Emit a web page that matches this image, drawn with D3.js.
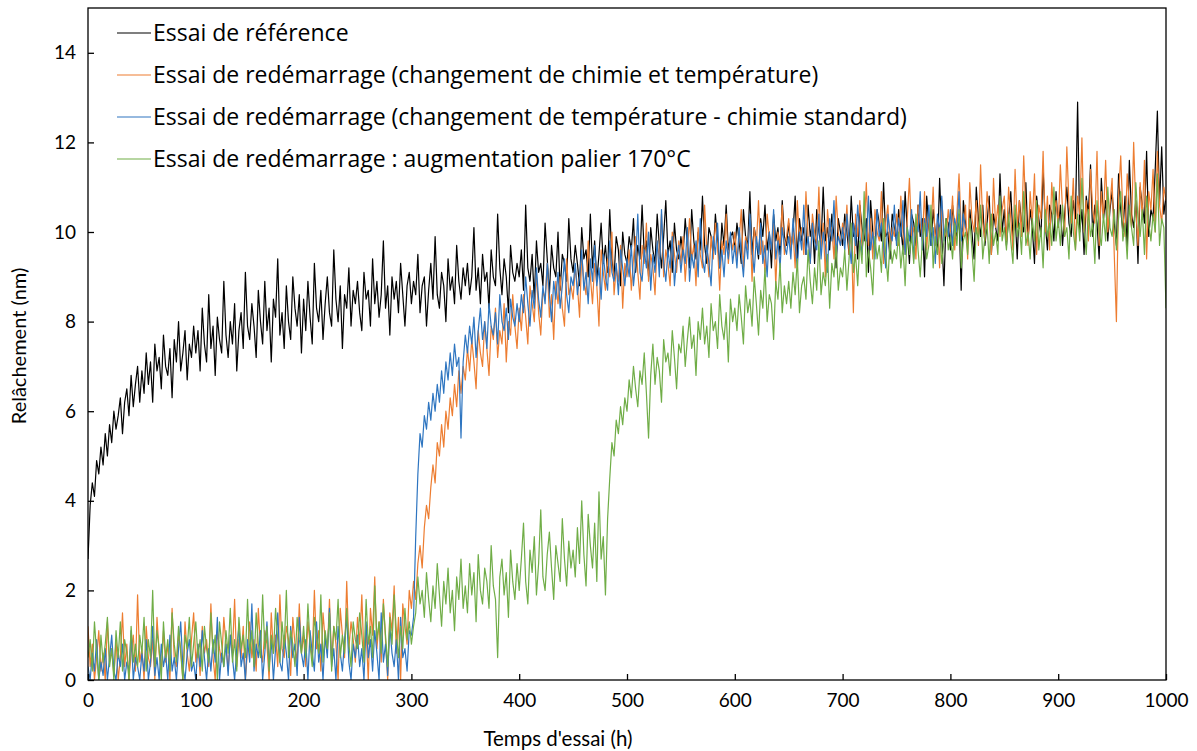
<!DOCTYPE html>
<html>
<head>
<meta charset="utf-8">
<script src="https://cdn.jsdelivr.net/npm/d3@7"></script>
<style>
  html, body { margin: 0; padding: 0; background: #fff; }
  svg { display: block; }
  text { font-family: Lato, "Open Sans", sans-serif; fill: #000; }
  .legend text { font-family: "Open Sans", Lato, sans-serif; }
</style>
</head>
<body>
<svg id="chart" width="1197" height="751"></svg>
<script>
// Sampling interval of the relaxation measurements (hours)
const STEP_H = 2;

const seriesNames = [
  "Essai de référence",
  "Essai de redémarrage (changement de chimie et température)",
  "Essai de redémarrage (changement de température - chimie standard)",
  "Essai de redémarrage : augmentation palier 170°C"
];

const xTicks = [0, 100, 200, 300, 400, 500, 600, 700, 800, 900, 1000];
const yTicks = [0, 2, 4, 6, 8, 10, 12, 14];

// Relâchement (nm), one value every STEP_H hours from t = 0
const refValues = [
  2.7,3.9,4.4,4.1,4.9,4.6,5.2,4.8,5.5,5.0,5.7,5.3,6.0,5.6,5.9,6.3,5.5,6.2,6.5,5.9,6.8,6.1,6.6,7.0,6.2,
  6.9,6.4,7.3,6.6,7.1,6.2,7.5,6.9,7.2,6.5,7.7,7.0,6.8,7.4,6.3,7.6,7.1,8.0,6.9,7.3,7.8,6.7,7.5,7.2,7.9,
  7.3,7.8,6.9,8.3,7.5,7.1,8.6,7.4,7.9,6.8,8.1,7.6,7.3,8.9,7.7,7.2,8.0,7.5,8.4,6.9,7.8,8.2,7.4,9.1,7.9,
  7.6,8.4,7.9,7.2,8.7,8.0,7.5,8.9,7.8,8.3,7.1,8.5,8.1,9.4,7.7,8.2,7.4,8.8,8.0,7.6,9.0,8.3,7.9,8.6,7.3,
  8.5,7.8,8.9,8.1,7.5,9.3,8.3,8.0,8.7,7.6,8.4,9.0,8.2,7.9,9.6,8.5,8.0,8.8,7.4,8.6,8.3,9.2,7.9,8.7,8.4,
  8.9,8.2,7.8,9.1,8.5,8.7,7.9,9.4,8.4,8.9,8.1,8.6,9.8,8.3,8.8,7.7,9.0,8.5,8.9,8.2,9.3,8.6,7.9,8.8,9.1,
  8.4,8.9,8.6,9.5,8.2,8.8,9.0,7.9,8.7,9.3,8.5,9.9,8.6,8.3,9.1,8.8,8.0,9.4,8.7,9.0,8.4,9.7,8.9,8.5,9.2,
  8.8,9.3,8.6,9.0,10.1,8.7,9.2,8.4,9.5,8.9,9.1,8.3,9.6,9.0,8.8,10.4,9.2,8.6,9.4,9.0,8.2,9.7,9.1,8.9,9.3,
  9.0,9.6,8.7,10.6,9.2,8.9,9.5,8.5,9.8,9.1,9.3,8.8,10.2,9.4,8.6,9.7,9.2,9.0,10.0,8.7,9.5,9.3,8.9,10.3,9.4,
  9.1,9.7,9.3,8.8,10.1,9.4,9.6,9.0,10.4,9.2,9.8,8.9,9.5,10.2,9.3,9.7,9.1,10.5,9.4,9.0,9.9,9.6,8.8,10.0,9.5,
  9.3,9.9,9.6,10.3,9.1,9.7,9.4,10.6,9.5,9.8,9.0,10.1,9.6,9.3,10.4,9.7,9.2,9.9,10.7,9.5,9.8,9.1,10.2,9.6,9.4,
  9.9,9.5,10.3,9.7,9.2,10.5,9.8,9.4,10.0,9.6,10.8,9.7,9.3,10.1,9.9,9.5,10.4,9.8,9.2,10.2,9.7,10.6,9.6,9.9,10.0,
  9.6,10.2,9.8,9.3,10.5,9.9,9.7,10.9,9.5,10.1,9.8,9.4,10.3,9.9,10.6,9.6,10.0,9.2,10.4,9.8,10.1,9.5,10.7,9.9,9.7,
  10.2,9.6,10.0,10.8,9.4,10.3,9.8,10.1,9.5,10.6,9.9,10.2,9.3,10.5,10.0,9.7,11.0,9.8,10.1,9.6,10.4,9.9,9.2,10.3,10.0,
  9.7,10.4,10.0,9.5,10.8,9.9,10.2,9.4,10.6,10.1,9.8,10.3,9.1,10.7,10.0,9.6,10.5,10.2,9.8,11.1,9.9,10.0,9.4,10.4,10.1,
  9.8,10.5,10.1,9.6,10.9,10.0,9.3,10.4,10.2,9.7,10.6,9.9,10.3,9.0,10.8,10.1,9.7,10.5,10.0,9.5,11.2,9.9,8.8,10.3,10.2,
  9.6,10.6,10.1,9.9,10.4,8.7,10.7,10.2,9.8,10.5,10.0,9.4,11.0,10.3,9.9,10.6,9.7,10.2,10.8,9.5,10.4,10.1,9.8,11.3,10.0,
  10.5,9.7,10.3,10.9,9.9,10.4,9.4,10.7,10.2,10.0,11.1,9.8,10.5,10.1,9.3,10.8,10.3,9.9,11.4,10.2,9.6,10.6,10.4,9.8,10.9,
  10.1,10.6,9.7,10.4,11.0,10.2,9.9,10.7,10.3,12.9,10.0,10.5,9.5,10.8,10.4,11.5,9.9,10.6,10.2,9.4,11.2,10.3,10.7,9.8,10.5,
  10.9,10.2,9.7,11.3,10.5,10.0,10.8,9.6,11.6,10.4,10.1,10.7,9.3,11.0,10.6,10.2,11.8,9.9,10.5,10.3,11.4,12.7,10.6,11.9,10.4,
  10.8
];

const chemTempValues = [
  1.2,0.3,0.8,0.0,0.5,1.1,0.2,0.6,0.0,1.3,0.4,0.7,0.1,0.9,0.0,0.5,1.5,0.3,0.8,0.0,0.6,1.0,0.2,1.9,0.4,
  0.7,0.0,1.2,0.5,0.3,0.9,0.0,1.4,0.6,0.2,1.1,0.4,0.8,0.0,1.6,0.5,0.3,1.0,0.7,0.0,1.3,0.6,0.2,0.9,1.5,
  0.4,0.8,0.1,1.2,0.6,0.9,0.3,1.7,0.5,0.0,1.1,0.7,0.4,1.4,0.8,0.2,1.0,0.6,1.8,0.3,0.9,0.5,1.2,0.0,0.7,
  1.3,0.5,0.9,0.2,1.6,0.7,0.4,1.1,0.8,0.0,1.5,0.6,1.0,0.3,1.9,0.7,0.5,1.2,0.9,0.1,1.4,0.8,0.4,1.7,0.6,
  1.0,0.3,1.3,0.8,0.5,2.0,0.7,1.1,0.2,1.5,0.9,0.6,1.8,0.4,1.2,0.8,0.0,1.6,1.0,0.5,2.2,0.7,1.3,0.9,0.4,
  1.4,0.8,1.9,0.5,1.1,0.0,1.6,1.0,2.3,0.7,1.3,0.4,1.8,0.9,0.0,1.5,1.1,2.1,0.6,1.4,0.0,1.7,1.2,0.8,2.0,
  1.6,2.2,1.8,2.6,3.0,2.5,3.4,3.9,3.6,4.3,4.8,4.4,5.3,5.0,5.7,5.2,6.0,5.6,6.3,5.9,6.6,6.1,6.9,6.4,7.0,
  6.7,7.4,6.9,7.6,7.1,6.5,7.8,7.3,7.0,8.0,7.4,6.8,7.9,7.6,8.3,7.2,7.8,7.5,8.4,7.1,8.0,7.7,8.6,7.9,7.4,
  8.3,7.8,8.6,8.1,7.5,8.8,8.4,8.0,9.1,8.2,7.7,8.7,8.5,9.3,8.1,8.6,7.6,8.9,8.4,9.0,8.3,7.9,9.4,8.6,8.8,
  8.5,9.2,8.8,8.1,9.5,8.9,8.6,9.8,9.0,8.4,9.3,8.8,7.9,9.6,9.1,8.7,9.4,9.0,10.0,8.6,9.2,8.9,9.7,8.3,9.3,
  9.0,9.6,8.7,9.4,9.9,9.1,8.5,9.7,9.3,10.2,8.9,9.5,9.2,8.6,9.8,9.4,10.4,9.0,9.6,9.3,8.8,10.0,9.5,9.1,9.8,
  9.3,9.9,8.9,9.6,10.3,9.4,9.7,8.8,10.1,9.5,9.2,10.6,9.6,9.0,9.9,9.4,10.2,9.7,8.7,9.8,9.5,10.4,9.3,9.9,9.6,
  10.0,9.4,9.8,10.5,9.2,9.9,9.6,10.3,8.9,10.1,9.7,10.7,9.5,9.8,9.1,10.4,9.9,9.6,10.2,8.8,10.0,9.7,10.6,9.5,9.9,
  10.3,9.6,10.0,9.2,10.7,9.8,10.1,9.5,10.9,9.9,9.3,10.4,10.0,9.7,11.0,9.6,10.2,9.0,10.5,9.9,10.1,9.4,10.8,10.0,9.7,
  10.2,9.8,10.6,9.5,10.1,8.2,10.4,9.9,10.7,9.6,10.0,11.1,9.7,10.3,9.4,10.5,10.0,9.8,10.9,9.3,10.2,10.6,9.6,10.1,9.9,
  10.4,9.7,10.8,10.0,9.5,10.3,11.2,9.9,10.1,9.4,10.6,10.2,9.8,10.9,9.6,10.4,10.0,11.0,9.7,10.3,9.2,10.7,10.1,9.9,10.5,
  10.0,10.8,9.6,10.4,11.3,10.1,9.9,10.6,9.4,11.1,10.3,10.0,10.7,9.7,11.5,10.2,9.8,10.9,10.4,9.5,11.2,10.1,10.6,9.9,10.5,
  10.8,9.8,11.0,10.3,9.6,11.4,10.1,10.7,9.9,11.7,10.4,9.7,10.9,10.2,11.3,9.5,10.6,10.3,11.8,10.0,10.8,9.6,11.1,10.4,10.7,
  10.1,11.5,10.5,9.9,11.9,10.6,10.2,11.2,9.6,10.8,10.4,12.1,10.0,10.7,9.8,11.4,10.5,10.2,11.8,9.7,10.9,10.3,11.6,10.0,10.6,
  11.2,9.5,8.0,10.8,11.7,10.4,9.9,11.3,10.6,10.1,12.0,10.5,9.7,11.1,10.3,11.6,9.4,10.9,10.5,11.4,10.0,11.8,10.6,10.2,11.0,
  10.7
];

const tempValues = [
  0.3,0.0,0.6,0.2,0.9,0.0,0.4,0.1,0.7,0.0,0.5,1.0,0.2,0.0,0.6,0.3,0.8,0.0,0.4,0.2,1.1,0.0,0.5,0.3,0.0,
  0.6,0.2,0.9,0.0,0.4,1.2,0.1,0.5,0.0,0.8,0.3,0.6,0.0,1.0,0.2,0.5,0.0,0.7,1.3,0.3,0.0,0.6,0.9,0.2,0.4,
  0.0,0.8,0.3,1.1,0.5,0.0,0.7,0.2,0.9,0.4,1.4,0.0,0.6,0.3,0.8,0.1,1.0,0.5,0.0,0.7,1.2,0.3,0.6,0.0,0.9,
  0.4,1.7,0.2,0.8,0.5,1.1,0.0,0.6,1.3,0.3,0.9,0.0,0.7,1.5,0.4,0.2,1.0,0.6,0.0,1.2,0.5,0.8,0.1,1.4,0.6,
  0.3,0.9,0.0,1.1,0.6,0.2,1.3,0.4,0.8,0.0,1.0,0.5,1.6,0.3,0.7,0.0,1.2,0.6,0.2,0.9,1.4,0.4,0.0,0.8,0.5,
  1.0,0.3,0.7,0.0,1.3,0.5,0.9,0.2,1.1,0.6,0.0,1.5,0.4,0.8,0.1,1.2,0.6,0.3,0.9,0.0,1.4,0.5,0.7,0.2,1.1,
  1.0,1.4,3.2,4.6,5.5,5.2,5.9,5.6,6.2,5.8,6.4,6.0,6.6,6.2,6.9,6.4,7.1,6.7,7.3,6.8,7.5,7.0,7.2,5.4,7.1,
  7.7,7.3,7.9,7.5,8.1,7.2,7.8,8.3,7.6,8.0,7.4,8.4,7.9,7.7,8.2,7.5,8.6,8.0,7.8,8.3,7.6,8.5,8.1,7.9,8.4,
  8.0,8.6,8.2,9.0,8.4,7.9,8.7,8.3,9.2,8.5,8.1,8.8,8.4,9.3,8.6,8.0,8.9,8.5,9.1,8.3,8.8,9.4,8.6,8.2,9.0,
  8.8,9.3,8.6,9.0,9.6,8.7,9.1,8.4,9.4,8.9,9.7,8.8,9.2,8.5,9.5,9.0,8.7,9.8,9.1,8.9,9.3,8.6,9.6,9.2,8.8,
  9.4,9.0,9.7,8.8,9.3,10.4,9.1,8.9,9.6,9.2,10.0,8.7,9.5,9.1,9.8,9.0,10.5,9.3,8.9,9.6,9.2,9.9,8.8,9.4,9.7,
  9.1,9.6,9.3,10.1,8.9,9.5,9.2,9.8,9.0,10.3,9.4,9.1,9.7,9.3,8.8,9.9,9.5,10.2,9.2,9.6,9.0,9.8,9.4,10.0,9.3,
  9.7,9.2,10.1,9.5,9.0,9.8,9.4,10.4,9.6,9.1,9.9,9.5,10.2,9.3,9.7,9.0,10.0,9.6,10.5,9.4,9.8,9.2,10.1,9.7,9.5,
  9.9,9.4,10.3,9.7,9.2,10.0,9.6,10.6,9.5,9.9,9.3,10.2,9.8,9.6,10.4,9.4,10.0,9.7,9.1,10.3,9.8,10.7,9.5,9.9,9.7,
  10.1,9.6,10.4,9.8,9.3,10.2,9.7,10.6,9.9,9.5,10.3,9.8,10.8,9.6,10.0,9.4,10.5,9.9,10.2,9.7,9.2,10.4,10.0,9.8,10.6,
  9.7,10.3,9.9,10.7,9.5,10.1,9.8,10.5,9.4,10.2,10.0,10.9,9.6,10.3,9.9,10.6,9.7,10.1,9.3,10.4,10.0,10.8,9.8,10.2,9.9,
  10.5,9.7,10.3,10.0,10.9,9.8,10.4,10.1
];

const palierValues = [
  0.5,0.9,0.2,1.3,0.6,0.0,1.0,0.4,0.8,1.4,0.3,0.7,0.0,1.1,0.5,1.3,0.2,0.9,0.6,0.0,1.2,0.4,0.8,0.3,1.0,
  0.6,1.4,0.2,0.9,0.5,2.0,0.3,1.1,0.7,0.0,1.3,0.5,0.9,0.2,1.5,0.8,0.4,1.2,0.6,0.0,1.0,0.7,1.4,0.3,0.8,
  1.3,0.5,0.9,0.2,1.2,0.7,0.4,1.5,0.6,1.0,0.0,1.3,0.8,0.3,1.1,0.6,1.6,0.4,0.9,0.2,1.4,0.7,1.0,0.5,1.8,
  0.6,1.1,0.3,1.5,0.8,0.5,1.9,0.7,1.2,0.2,1.0,0.6,1.6,0.9,0.4,1.3,0.7,2.0,0.5,1.1,0.8,0.3,1.4,0.9,0.6,
  1.2,0.5,1.7,0.8,0.3,1.4,1.0,0.6,1.9,0.4,1.1,0.7,1.5,0.2,1.2,0.9,1.8,0.5,1.0,0.6,1.6,0.8,0.3,1.3,0.9,
  0.7,1.5,1.0,0.4,1.8,0.8,1.2,0.5,2.1,0.9,1.3,0.6,1.7,1.0,0.3,1.4,0.8,1.9,1.1,0.5,1.2,0.7,1.6,0.9,1.3,
  0.8,1.2,1.5,2.3,1.7,2.0,1.4,2.4,1.8,1.3,2.1,1.6,2.6,1.9,1.2,2.2,1.7,2.5,1.5,2.0,1.1,2.3,1.8,2.7,1.6,
  2.1,1.5,2.6,1.9,2.4,1.3,2.8,2.0,1.7,2.5,2.2,1.6,3.0,2.1,1.8,0.5,2.3,2.7,1.9,2.4,1.4,2.9,2.2,1.8,2.6,
  2.0,2.7,3.5,2.2,1.7,2.9,2.4,3.2,1.9,2.6,3.8,2.3,2.0,2.8,3.3,2.5,1.8,3.0,2.6,2.2,3.6,2.7,2.1,3.1,2.5,
  2.9,2.3,3.4,2.6,4.0,2.8,2.1,3.7,3.0,2.5,3.5,2.2,4.2,2.7,3.2,1.9,3.6,4.5,5.3,5.0,5.8,5.5,6.1,5.7,6.3,
  6.0,6.7,6.3,7.0,6.5,6.1,6.9,6.6,7.3,6.4,5.4,6.8,7.5,6.6,7.2,6.9,6.2,7.6,7.1,7.3,6.8,7.8,7.2,6.5,7.5,
  7.3,7.9,7.0,7.6,8.1,7.4,7.7,6.8,8.0,7.6,8.3,7.5,7.9,7.2,8.4,7.8,8.0,7.4,8.6,7.9,7.6,8.2,7.1,8.5,8.0,
  8.3,7.8,8.6,8.1,7.5,8.8,8.2,8.5,7.9,9.0,8.4,7.7,8.7,8.3,9.2,8.0,8.6,8.4,7.6,8.9,8.5,9.3,8.2,8.8,8.4,
  8.9,8.3,9.1,8.6,9.4,8.2,8.8,9.0,8.5,9.6,8.9,8.4,9.2,8.7,9.8,8.6,9.1,8.8,9.5,8.3,9.3,9.0,9.7,8.7,9.2,
  9.0,9.6,8.7,9.4,10.2,9.1,9.5,8.8,9.8,9.3,10.9,9.0,9.6,9.2,8.6,9.9,9.4,9.7,9.1,10.3,9.5,8.9,9.8,9.3,9.6,
  9.4,10.0,9.2,9.7,8.8,10.1,9.5,9.9,9.3,10.4,9.6,9.0,9.8,10.2,9.4,9.7,10.6,9.2,9.9,9.5,10.1,9.3,9.8,10.3,9.6,
  9.9,9.4,10.2,9.7,10.5,9.2,9.8,10.0,9.5,10.3,9.6,8.9,10.1,9.8,10.6,9.4,9.9,10.2,9.3,10.4,9.7,10.0,9.5,10.8,9.8,
  10.1,9.6,10.4,9.8,9.3,10.6,9.9,10.2,9.5,10.9,9.7,10.0,9.4,10.3,9.8,10.7,9.6,10.1,9.2,10.5,9.9,10.2,9.7,11.0,9.8,
  10.3,9.7,10.6,9.9,10.1,9.4,10.8,10.0,9.6,10.4,9.8,11.2,10.1,9.5,10.5,9.9,10.2,9.3,10.7,10.0,9.7,10.4,9.8,11.0,10.1,
  9.9,10.5,9.6,10.3,10.9,9.8,10.2,9.4,10.6,10.1,9.7,11.1,10.3,9.9,10.5,9.5,10.8,10.2,9.8,10.4,10.0,11.3,9.7,10.3,10.1,
  8.3
];

const seriesColors = ["#000000", "#ED7D31", "#2E75C0", "#70AD47"];
const seriesValues = [refValues, chemTempValues, tempValues, palierValues];

const svg = d3.select("#chart");
const plot = { left: 88, right: 1166, top: 8, bottom: 680 };

const x = d3.scaleLinear().domain([0, 1000]).range([plot.left, plot.right]);
const y = d3.scaleLinear().domain([0, 15]).range([plot.bottom, plot.top]);

svg.append("clipPath").attr("id", "plot-clip")
  .append("rect")
  .attr("x", plot.left).attr("y", plot.top)
  .attr("width", plot.right - plot.left).attr("height", plot.bottom - plot.top);

// Series lines, reference run underneath
const line = d3.line()
  .x((d, i) => x(i * STEP_H))
  .y(d => y(d));

const lines = svg.append("g").attr("clip-path", "url(#plot-clip)");
seriesValues.forEach((vals, k) => {
  lines.append("path")
    .datum(vals)
    .attr("d", line)
    .attr("fill", "none")
    .attr("stroke", seriesColors[k])
    .attr("stroke-width", 1.2)
    .attr("stroke-linejoin", "round");
});

// Plot frame
svg.append("rect")
  .attr("x", plot.left).attr("y", plot.top)
  .attr("width", plot.right - plot.left).attr("height", plot.bottom - plot.top)
  .attr("fill", "none").attr("stroke", "#000").attr("stroke-width", 1.3);

// Axes with inward ticks
const xAxis = svg.append("g")
  .attr("transform", `translate(0,${plot.bottom})`)
  .call(d3.axisBottom(x).tickValues(xTicks).tickSize(-6).tickPadding(14).tickFormat(d3.format("d")));
const yAxis = svg.append("g")
  .attr("transform", `translate(${plot.left},0)`)
  .call(d3.axisLeft(y).tickValues(yTicks).tickSize(-6).tickPadding(12).tickFormat(d3.format("d")));

[xAxis, yAxis].forEach(g => {
  g.select(".domain").remove();
  g.selectAll(".tick line").attr("stroke", "#000").attr("stroke-width", 1.3);
  g.selectAll(".tick text")
    .attr("font-size", 19)
    .attr("fill", "#000");
});

// Axis titles
svg.append("text")
  .attr("x", 558)
  .attr("y", 746)
  .attr("text-anchor", "middle")
  .attr("font-size", 20.5)
  .text("Temps d'essai (h)");

svg.append("text")
  .attr("transform", `translate(26,346) rotate(-90)`)
  .attr("text-anchor", "middle")
  .attr("font-size", 20)
  .text("Relâchement (nm)");

// Legend, inside the plot area at the top left
const legend = svg.append("g").attr("class", "legend");
seriesNames.forEach((name, k) => {
  const cy = 33 + k * 42;
  legend.append("line")
    .attr("x1", 117).attr("x2", 151)
    .attr("y1", cy).attr("y2", cy)
    .attr("stroke", seriesColors[k])
    .attr("stroke-width", 1.2);
  legend.append("text")
    .attr("x", 153)
    .attr("y", cy)
    .attr("dy", "0.35em")
    .attr("font-size", 23)
    .text(name);
});
</script>
</body>
</html>
